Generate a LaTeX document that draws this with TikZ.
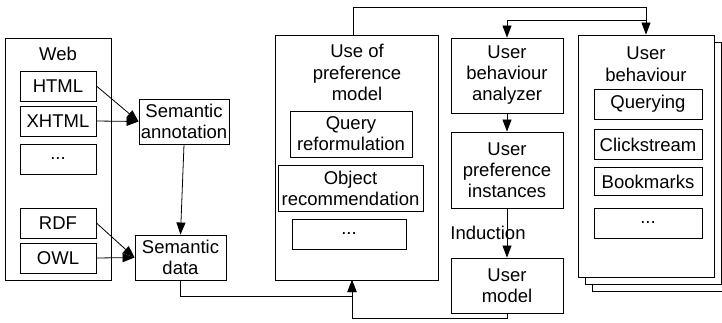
\documentclass[tikz,border=0pt]{standalone}
\usepackage{fontspec}
\setmainfont{Liberation Sans}
\usetikzlibrary{arrows.meta}
\newcommand{\moredots}{...}

\begin{document}
\begin{tikzpicture}
[x=1pt,y=-1pt,
  boxdecorate/.style={shape=rectangle,draw,line width=0.9pt,fill=white,inner sep=0pt,
    align=center,font=\fontsize{18.5}{21}\selectfont},
  titledecorate/.style={below,inner sep=0pt,align=center,font=\fontsize{18.5}{21.5}\selectfont},
  arrowdecorate/.style={-{Triangle[length=12pt,width=9pt]},line width=0.8pt}]
\useasboundingbox (0,0) rectangle (722,322);
%% containers (the behaviour stack is drawn back to front)
\foreach \nodename/\x/\y/\w/\h in {web/58/159/106/242, use/356.5/157.5/163/245,
  behavc/660/170/136/242, behavb/653/163/136/242, behav/646/156/136/242}
{
  \node (\nodename) at (\x,\y) [boxdecorate,minimum width=\w pt,minimum height=\h pt] {};
}
\node (webtitle) at (58,47) [titledecorate] {Web};
\node (usetitle) at (357,44) [titledecorate] {Use of\\preference\\model};
\node (behavtitle) at (646,47) [titledecorate] {User\\behaviour};
%% boxes
\foreach \nodename/\x/\y/\w/\h/\content in {html/58/86/76/30/HTML,
  xhtml/58/121/76/30/XHTML, webdots/58/159/76/30/\moredots, rdf/58/223/76/30/RDF,
  owl/58/258/76/30/OWL, annot/184/121.5/90/45/Semantic\\annotation,
  sdata/180.5/257.5/91/45/Semantic\\data, query/351/134/122/46/Query\\reformulation,
  objrec/350.5/188/145/46/Object\\recommendation, usedots/349/234/114/30/\moredots,
  analyzer/507/75.5/112/75/User\\behaviour\\analyzer,
  instances/507/170/112/76/User\\preference\\instances, umodel/507/285.5/112/55/User\\model,
  querying/648/104/108/30/Querying, click/648/144.5/108/30/Clickstream,
  bookm/648/181.5/108/28/Bookmarks, behavdots/648/223/108/30/\moredots}
{
  \node (\nodename) at (\x,\y) [boxdecorate,minimum width=\w pt,minimum height=\h pt] {\content};
}
%% edges
\path
\foreach \startnode/\endnode in {html.east/annot.west, xhtml.east/annot.west,
  rdf.east/sdata.west, owl.east/sdata.west, annot.south/sdata.north,
  analyzer.south/instances.north}
{
  (\startnode) edge[arrowdecorate] (\endnode)
};
\draw[arrowdecorate] (instances.south) -- node[xshift=-19pt,inner sep=0pt,
  font=\fontsize{18.5}{21}\selectfont] {Induction} (umodel.north);
\coordinate (usein) at (352,280);
\coordinate (useout) at (353,35);
\coordinate (split) at (646,20);
\draw[arrowdecorate] (sdata.south) -- ++(0,16) -| (usein);
\draw[arrowdecorate] (umodel.south) -- ++(0,5) -| (usein);
\draw[arrowdecorate] (useout) -- ++(0,-28) -| (behav.north);
\draw[arrowdecorate] (split) -| (analyzer.north);
\end{tikzpicture}
\end{document}
